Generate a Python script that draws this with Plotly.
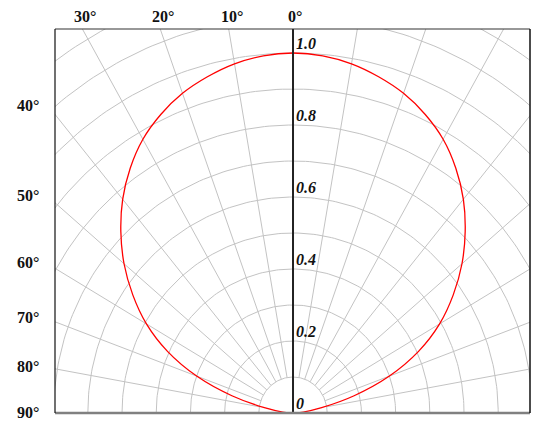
import numpy as np
import plotly.graph_objects as go

# relative intensity (symmetric about 0 deg)
angles = [0, 5, 10, 15, 20, 25, 30, 35, 40, 45, 50, 55, 60, 65, 70, 75, 80, 85, 90]
intensity = [1.0, 0.996, 0.985, 0.967, 0.945, 0.915, 0.878, 0.83, 0.775, 0.712,
             0.645, 0.572, 0.495, 0.405, 0.30, 0.185, 0.085, 0.03, 0.0]

# polar grid
grid_radii = [0.1, 0.2, 0.3, 0.4, 0.5, 0.6, 0.7, 0.8, 0.9, 1.0, 1.1, 1.2, 1.3]
grid_angles = [10, 20, 30, 40, 50, 60, 70, 80]
top_angles = [0, 10, 20, 30]
side_angles = [40, 50, 60, 70, 80, 90]
radius_ticks = [0, 0.2, 0.4, 0.6, 0.8, 1.0]
radius_labels = ["0", "0.2", "0.4", "0.6", "0.8", "1.0"]

# visible window of the polar plane
x_range = [-0.696, 0.693]
y_range = [0, 1.0667]

GRID = "#c3c3c3"
FONT = "Liberation Serif, Times New Roman, serif"

fig = go.Figure()

# circles
t = np.radians(np.arange(-90, 91, 1))
for r in grid_radii:
    fig.add_trace(go.Scatter(x=r * np.sin(t), y=r * np.cos(t), mode="lines",
                             line=dict(color=GRID, width=1), hoverinfo="skip"))

# spokes (start at the innermost circle)
for a in grid_angles:
    for s in (-1, 1):
        th = np.radians(s * a)
        fig.add_trace(go.Scatter(x=[0.1 * np.sin(th), 2 * np.sin(th)],
                                 y=[0.1 * np.cos(th), 2 * np.cos(th)], mode="lines",
                                 line=dict(color=GRID, width=1), hoverinfo="skip"))

# measured curve
theta = [-a for a in angles[::-1]] + angles[1:]
rad = intensity[::-1] + intensity[1:]
th = np.radians(theta)
fig.add_trace(go.Scatter(x=np.array(rad) * np.sin(th), y=np.array(rad) * np.cos(th),
                         mode="lines",
                         line=dict(color="#ff0000", width=1.3, shape="spline", smoothing=0.8),
                         hoverinfo="skip"))

# frame and axes
fig.add_shape(type="line", xref="x", yref="y", x0=0, x1=0, y0=0, y1=y_range[1],
              line=dict(color="#222222", width=2))
fig.add_shape(type="line", xref="paper", yref="paper", x0=0, x1=1, y0=0, y1=0,
              line=dict(color="#808080", width=2.5))
fig.add_shape(type="line", xref="paper", yref="paper", x0=0, x1=1, y0=1, y1=1,
              line=dict(color="#333333", width=1.2))
fig.add_shape(type="line", xref="paper", yref="paper", x0=0, x1=0, y0=0, y1=1,
              line=dict(color="#111111", width=1.2))
fig.add_shape(type="line", xref="paper", yref="paper", x0=1, x1=1, y0=0, y1=1,
              line=dict(color="#111111", width=1.5))

# angle labels
for a in top_angles:
    fig.add_annotation(x=-y_range[1] * np.tan(np.radians(a)), y=1, xref="x", yref="paper",
                       text=f"{a}°", showarrow=False, xanchor="center", yanchor="bottom",
                       xshift=3 if a else 2, yshift=2,
                       font=dict(family=FONT, size=16, color="#111111", weight="bold"))
for a in side_angles:
    yy = -x_range[0] / np.tan(np.radians(a)) if a < 90 else 0
    fig.add_annotation(x=0, y=yy, xref="paper", yref="y", text=f"{a}°", showarrow=False,
                       xanchor="right", yanchor="middle", xshift=-14,
                       yshift=1 + 8 * (90 - a) / 50,
                       font=dict(family=FONT, size=16, color="#111111", weight="bold"))

# radius labels
for r, lab in zip(radius_ticks, radius_labels):
    fig.add_annotation(x=0, y=r, xref="x", yref="y", text=f"<i>{lab}</i>", showarrow=False,
                       xanchor="left", yanchor="bottom", xshift=1, yshift=-1,
                       font=dict(family=FONT, size=16, color="#111111", weight="bold"))

fig.update_xaxes(range=x_range, visible=False, fixedrange=True)
fig.update_yaxes(range=y_range, visible=False, fixedrange=True)
fig.update_layout(width=533, height=421, showlegend=False,
                  margin=dict(l=55, r=3, t=29, b=8),
                  plot_bgcolor="white", paper_bgcolor="white")

fig.write_html("out.html", config={"displayModeBar": False},
               post_script="document.body.style.margin='0';")
